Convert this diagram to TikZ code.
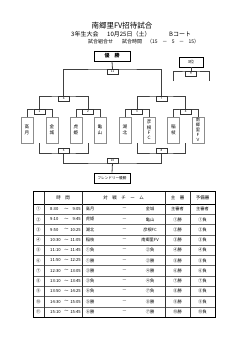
\documentclass[tikz,border=0pt]{standalone}
\usepackage{fontspec}
\setmainfont{Noto Sans CJK JP}
\newcommand{\myfs}[1]{\fontsize{#1}{#1}\selectfont}
\begin{document}
\begin{tikzpicture}[x=1pt,y=-1pt,
  team/.style={draw=black!45, line width=1pt, fill=white, minimum width=12pt, minimum height=26pt, inner sep=0pt, align=center, font=\fontsize{4.6}{5.8}\selectfont},
  lbl/.style={draw=black!80, line width=0.35pt, fill=white, minimum width=11pt, minimum height=5pt, inner sep=0pt, font=\fontsize{3}{3}\selectfont},
  brk/.style={line width=0.8pt, draw=black!75},
  resbox/.style={draw, line width=0.9pt, fill=white, minimum height=10pt, inner sep=0pt},
  txt/.style={inner sep=0pt},
  cell/.style={inner sep=0pt, font=\fontsize{4.2}{4.2}\selectfont},
  hcell/.style={inner sep=0pt, font=\fontsize{4.5}{4.5}\selectfont},
]
\useasboundingbox (0,0) rectangle (250,353);

% ---------- titles ----------
\node[txt, font=\myfs{7.5}] (title) at (122,26) {南郷里FV招待試合};
\node[txt, anchor=west, font=\myfs{6}] (grade) at (71,34) {3年生大会};
\node[txt, anchor=west, font=\myfs{6}] (date) at (107,34) {10月25日（土）};
\node[txt, anchor=west, font=\myfs{6}] (court) at (169,34) {Bコート};
\node[txt, anchor=west, font=\myfs{5}] (kumi) at (88,42) {試合組合せ};
\node[txt, anchor=west, font=\myfs{5}] (jikan) at (122,42) {試合時間};
\node[txt, anchor=west, font=\myfs{5}] (mins) at (147,42) {\makebox[52pt][s]{（15\hfill－\hfill5\hfill－\hfill15）}};

% ---------- result boxes ----------
\node[resbox, minimum width=36pt, font=\bfseries\myfs{5}] (win) at (112,56) {優　勝};
\node[resbox, minimum width=24pt, line width=0.7pt, font=\myfs{4}] (third) at (191,62) {3位};
\node[resbox, minimum width=36pt, line width=0.7pt, font=\myfs{3.6}] (friendly) at (112,178) {フレンドリー優勝};

% ---------- teams ----------
\node[team] (t1) at (27,130) {高\\月};
\node[team] (t2) at (52,130) {金\\城};
\node[team] (t3) at (76,130) {虎\\姫};
\node[team] (t4) at (100,130) {亀\\山};
\node[team] (t5) at (125,130) {湖\\北};
\node[team, font=\fontsize{4.5}{5.4}\selectfont] (t6) at (149,130) {彦\\根\\Ｆ\\Ｃ};
\node[team] (t7) at (173.5,130) {稲\\枝};
\node[team, font=\fontsize{4.2}{4.9}\selectfont] (t8) at (198,130) {南\\郷\\里\\Ｆ\\Ｖ};

% ---------- bracket coordinates ----------
\coordinate (q1) at (39.5,109);
\coordinate (q2) at (88,109);
\coordinate (q3) at (137,109);
\coordinate (q4) at (185.75,109);
\coordinate (s6) at (63.75,96);
\coordinate (s7) at (161.4,96);
\coordinate (f11) at (112.5,69);
\coordinate (b9) at (191,71);
\coordinate (b9l) at (173,81);
\coordinate (b9r) at (209,81);
\coordinate (m1) at (39.5,143);
\coordinate (m2) at (88,143);
\coordinate (m3) at (137,143);
\coordinate (m4) at (185.75,143);
\coordinate (c5) at (63.75,153);
\coordinate (c8) at (161.4,153);
\coordinate (c10) at (112.5,163);

% ---------- winners bracket ----------
\draw[brk] (t1.north) |- (q1) -| (t2.north);
\draw[brk] (t3.north) |- (q2) -| (t4.north);
\draw[brk] (t5.north) |- (q3) -| (t6.north);
\draw[brk] (t7.north) |- (q4) -| (t8.north);
\draw[brk] (q1) |- (s6) -| (q2);
\draw[brk] (q3) |- (s7) -| (q4);
\draw[brk] (s6) |- (f11) -| (s7);
\draw[brk] (f11) -- (win.south);
\draw[brk] (b9l) |- (b9) -| (b9r);
\draw[brk] (b9) -- (third.south);

% ---------- friendly bracket ----------
\draw[brk] (m1) |- (c5) -| (m2);
\draw[brk] (m3) |- (c8) -| (m4);
\draw[brk] (c5) |- (c10) -| (c8);
\draw[brk] (c10) -- (friendly.north);

% ---------- match labels ----------
\node[lbl, anchor=north] (L1) at (q1) {1};
\node[lbl, anchor=north] (L2) at (q2) {2};
\node[lbl, anchor=north] (L3) at (q3) {3};
\node[lbl, anchor=north] (L4) at (q4) {4};
\node[lbl, anchor=north] (L6) at (s6) {6};
\node[lbl, anchor=north] (L7) at (s7) {7};
\node[lbl, anchor=north] (L11) at (f11) {11};
\node[lbl, anchor=north] (L9) at (b9) {9};
\node[lbl, anchor=south] (L5) at (c5) {5};
\node[lbl, anchor=south] (L8) at (c8) {8};
\node[lbl, anchor=south] (L10) at (c10) {10};

% ---------- schedule table ----------
\def\rh{10.27}
\foreach \i in {1,...,10}{
  \draw[line width=0.35pt, black!60] (33,{204+\i*\rh}) -- (215,{204+\i*\rh});
}
\draw[line width=0.5pt] (33,204) -- (215,204);
\foreach \xx in {44,82,165,190}{
  \draw[line width=0.45pt, black!80] (\xx,191) -- (\xx,317);
}
\draw[line width=1pt] (33,191) rectangle (215,317);

\node[hcell] (hTime) at (63,197.5) {時　間};
\node[hcell] (hTeam) at (123.5,197.5) {対　戦　チ　ー　ム};
\node[hcell] (hRef) at (177.5,197.5) {主　審};
\node[hcell] (hSub) at (202.5,197.5) {予備審};

\foreach \i/\n/\s/\e/\a/\b/\c/\d in {
  1/①/8:30/9:05/高月/金城/主審者/主審者,
  2/②/9:10/9:45/虎姫/亀山/①勝/①負,
  3/③/9:50/10:25/湖北/彦根FC/②勝/②負,
  4/④/10:30/11:05/稲枝/南郷里FV/③勝/③負,
  5/⑤/11:10/11:45/①負/②負/④勝/④負,
  6/⑥/11:50/12:25/①勝/②勝/⑤勝/⑤負,
  7/⑦/12:30/13:05/③勝/④勝/⑥勝/⑥負,
  8/⑧/13:10/13:45/③負/④負/⑦勝/⑦負,
  9/⑨/13:50/14:25/⑥負/⑦負/⑧勝/⑧負,
  10/⑩/14:30/15:05/⑤勝/⑧勝/⑨勝/⑨負,
  11/⑪/15:10/15:45/⑥勝/⑦勝/⑩勝/⑩負}{
  \pgfmathsetmacro{\yy}{204+(\i-0.5)*\rh}
  \node[cell] (n\i) at (38.5,\yy) {\n};
  \node[cell, anchor=west] (s\i) at (50,\yy) {\s};
  \node[cell] (w\i) at (66.5,\yy) {～};
  \node[cell, anchor=east] (e\i) at (81,\yy) {\e};
  \node[cell] (a\i) at (90,\yy) {\a};
  \node[cell] (d\i) at (124.5,\yy) {—};
  \node[cell] (b\i) at (150,\yy) {\b};
  \node[cell] (r\i) at (177.5,\yy) {\c};
  \node[cell] (p\i) at (202.5,\yy) {\d};
}
\end{tikzpicture}
\end{document}
